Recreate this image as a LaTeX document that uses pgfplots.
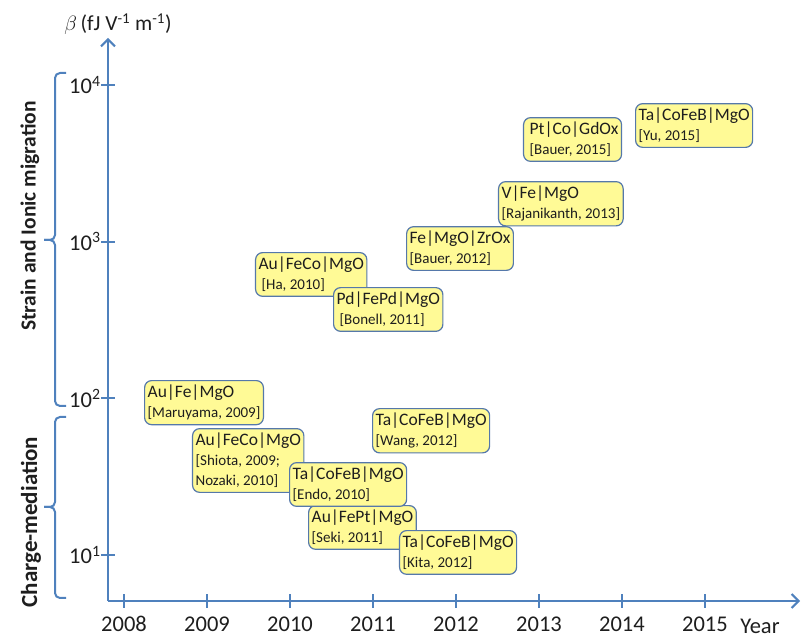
\documentclass[border=0pt]{standalone}
\usepackage{pgfplots}
\pgfplotsset{compat=1.18}
\usepackage{fontspec}
\setmainfont{Carlito}
\usetikzlibrary{arrows.meta}
\definecolor{axblue}{RGB}{79,129,189}
\definecolor{boxfill}{RGB}{255,250,150}
\definecolor{boxline}{RGB}{85,120,170}
\definecolor{txt}{RGB}{30,30,30}
\begin{document}
\begin{tikzpicture}[x=1pt,y=1pt,
  box/.style={draw=boxline, fill=boxfill, line width=1.2pt, rounded corners=7pt,
    anchor=north west, align=left, inner xsep=3pt, inner ysep=4.5pt, text=txt,
    font=\fontsize{15}{20}\selectfont}]
\useasboundingbox (0,0) rectangle (802,639);
\begin{axis}[
  at={(108pt,38pt)}, anchor=south west, scale only axis,
  width=692pt, height=563pt,
  xmin=2007.807, xmax=2016.145,
  ymode=log, ymin=5.087, ymax=19950,
  axis lines=left,
  axis line style={line width=2.2pt, draw=axblue, -{Straight Barb[length=7pt,width=14pt,line width=2pt]}},
  xtick={2008,2009,2010,2011,2012,2013,2014,2015},
  xticklabels={2008,2009,2010,2011,2012,2013,2014,2015},
  ytick={10,100,1000,10000},
  yticklabels={10\textsuperscript{1},10\textsuperscript{2},10\textsuperscript{3},10\textsuperscript{4}},
  xminorticks=false, yminorticks=false,
  major tick length=14pt, tick align=center,
  tick style={line width=2.2pt, draw=axblue},
  ticklabel style={font=\fontsize{22.5}{24}\selectfont, text=txt},
  xticklabel style={yshift=-5pt},
  yticklabel style={xshift=3pt},
  clip=false,
]
\node[box] at (axis cs:2008.241,130.9) {{\fontsize{17.5}{20}\selectfont Au|Fe|MgO}\\{[Maruyama, 2009]}};
\node[box] at (axis cs:2008.819,64.6) {{\fontsize{17.5}{20}\selectfont Au|FeCo|MgO}\\{[Shiota, 2009;}\\{Nozaki, 2010]}};
\node[box] at (axis cs:2010.217,20.85) {{\fontsize{17.5}{20}\selectfont Au|FePt|MgO}\\{[Seki, 2011]}};
\node[box] at (axis cs:2009.988,39.2) {{\fontsize{17.5}{20}\selectfont Ta|CoFeB|MgO}\\{[Endo, 2010]}};
\node[box] at (axis cs:2011.313,14.44) {{\fontsize{17.5}{20}\selectfont Ta|CoFeB|MgO}\\{[Kita, 2012]}};
\node[box] at (axis cs:2010.988,86.7) {{\fontsize{17.5}{20}\selectfont Ta|CoFeB|MgO}\\{[Wang, 2012]}};
\node[box] at (axis cs:2009.578,858.5) {{\fontsize{17.5}{20}\selectfont Au|FeCo|MgO}\\{\hspace*{3pt}[Ha, 2010]}};
\node[box] at (axis cs:2010.518,513.2) {{\fontsize{17.5}{20}\selectfont Pd|FePd|MgO}\\{\hspace*{3pt}[Bonell, 2011]}};
\node[box] at (axis cs:2011.398,1257) {{\fontsize{17.5}{20}\selectfont Fe|MgO|ZrOx}\\{[Bauer, 2012]}};
\node[box] at (axis cs:2012.506,2436) {{\fontsize{17.5}{20}\selectfont V|Fe|MgO}\\{[Rajanikanth, 2013]}};
\node[box] at (axis cs:2012.807,6240) {{\fontsize{17.5}{20}\selectfont \hspace*{3pt}Pt|Co|GdOx}\\{\hspace*{3pt}[Bauer, 2015]}};
\node[box] at (axis cs:2014.157,7665) {{\fontsize{17.5}{20}\selectfont Ta|CoFeB|MgO}\\{[Yu, 2015]}};
\end{axis}
% axis titles
\node[font=\fontsize{21.5}{24}\selectfont, text=txt] at (118,615) {$\beta$\,(fJ V\textsuperscript{-1} m\textsuperscript{-1})};
\node[font=\fontsize{22.5}{24}\selectfont, text=txt] at (760,13) {Year};
% brackets
\draw[axblue, line width=2pt, rounded corners=5pt] (66,566) -- (55,566) -- (55,399) -- (44,399);
\draw[axblue, line width=2pt, rounded corners=5pt] (66,233) -- (55,233) -- (55,399) -- (44,399);
\draw[axblue, line width=2pt, rounded corners=5pt] (66,222) -- (55,222) -- (55,132) -- (44,132);
\draw[axblue, line width=2pt, rounded corners=5pt] (66,41) -- (55,41) -- (55,132) -- (44,132);
\node[rotate=90, font=\bfseries\fontsize{21.5}{24}\selectfont, text=txt] at (30,423) {Strain and Ionic migration};
\node[rotate=90, font=\bfseries\fontsize{23}{26}\selectfont, text=txt] at (31,117) {Charge-mediation};
\end{tikzpicture}
\end{document}
